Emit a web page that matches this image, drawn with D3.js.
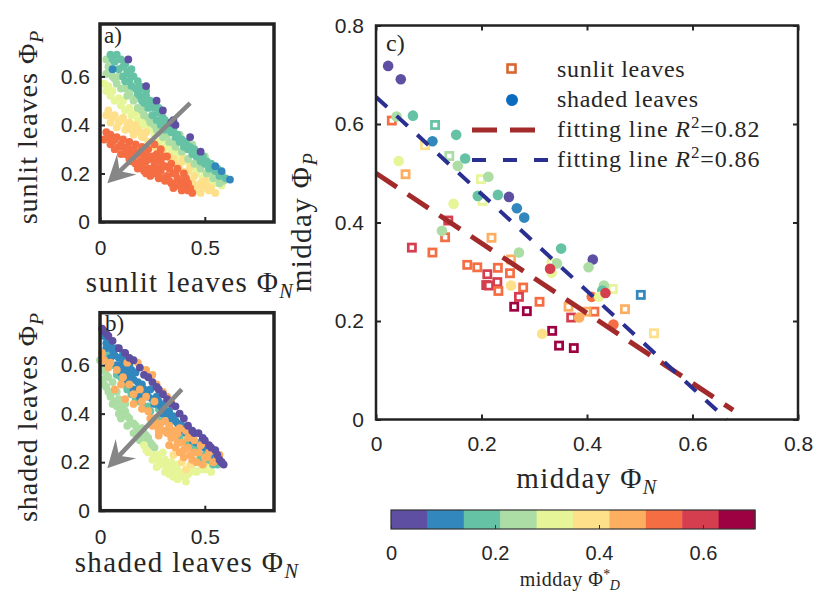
<!DOCTYPE html>
<html>
<head>
<meta charset="utf-8">
<script src="https://cdn.jsdelivr.net/npm/d3@7"></script>
<style>
  body { margin: 0; background: #fff; }
  svg { display: block; font-family: "Liberation Sans", Arial, sans-serif; }
  .serif { font-family: "Liberation Serif", "Times New Roman", serif; fill: #262626; }
</style>
</head>
<body>
<svg id="chart" width="821" height="596"></svg>
<script>
// ---- data -------------------------------------------------------------
// each point: [Phi_N, Phi_P, Phi_D*]

// panel a) sunlit leaves (dense cloud, read by eye band by band)
const sunlitCloud = [
  // yellow-green band
  [0.02,0.57,0.31],[0.03,0.54,0.31],[0.05,0.52,0.31],[0.07,0.50,0.31],[0.10,0.48,0.31],[0.12,0.46,0.31],
  [0.15,0.44,0.31],[0.18,0.42,0.31],[0.20,0.40,0.31],[0.23,0.38,0.31],[0.26,0.36,0.31],[0.28,0.33,0.31],
  [0.31,0.31,0.31],[0.34,0.29,0.31],[0.37,0.27,0.31],[0.40,0.25,0.31],[0.43,0.22,0.31],[0.46,0.20,0.31],
  [0.49,0.18,0.31],[0.52,0.17,0.31],[0.55,0.16,0.31],[0.58,0.15,0.31],[0.47,0.26,0.31],[0.53,0.22,0.31],
  [0.04,0.56,0.31],[0.06,0.54,0.31],[0.09,0.51,0.31],[0.11,0.50,0.31],[0.14,0.47,0.31],[0.17,0.45,0.31],
  [0.20,0.43,0.31],[0.22,0.41,0.31],[0.25,0.39,0.31],[0.30,0.34,0.31],[0.33,0.32,0.31],[0.36,0.30,0.31],
  [0.39,0.28,0.31],[0.42,0.25,0.31],[0.45,0.23,0.31],[0.50,0.20,0.31],[0.56,0.18,0.31],
  // light orange band
  [0.03,0.44,0.38],[0.05,0.41,0.38],[0.07,0.44,0.38],[0.09,0.41,0.38],[0.11,0.43,0.38],[0.13,0.40,0.38],
  [0.15,0.38,0.38],[0.17,0.40,0.38],[0.19,0.37,0.38],[0.21,0.35,0.38],[0.23,0.33,0.38],[0.25,0.31,0.38],
  [0.28,0.29,0.38],[0.31,0.27,0.38],[0.34,0.25,0.38],[0.36,0.23,0.38],[0.39,0.21,0.38],[0.41,0.19,0.38],
  [0.44,0.17,0.38],[0.46,0.15,0.38],[0.49,0.14,0.38],[0.52,0.13,0.38],[0.55,0.12,0.38],[0.43,0.23,0.38],
  [0.40,0.26,0.38],[0.50,0.17,0.38],
  [0.04,0.46,0.38],[0.06,0.43,0.38],[0.08,0.39,0.38],[0.10,0.42,0.38],[0.12,0.38,0.38],[0.14,0.41,0.38],
  [0.16,0.36,0.38],[0.18,0.38,0.38],[0.20,0.35,0.38],[0.22,0.37,0.38],[0.24,0.33,0.38],[0.27,0.31,0.38],
  [0.30,0.29,0.38],[0.33,0.27,0.38],[0.35,0.26,0.38],[0.38,0.24,0.38],[0.42,0.21,0.38],[0.45,0.19,0.38],
  [0.48,0.16,0.38],[0.51,0.15,0.38],[0.53,0.14,0.38],[0.45,0.13,0.38],[0.48,0.12,0.38],
  // light green band
  [0.03,0.67,0.24],[0.04,0.64,0.24],[0.03,0.61,0.24],[0.06,0.60,0.24],[0.08,0.57,0.24],[0.10,0.55,0.24],
  [0.13,0.52,0.24],[0.16,0.50,0.24],[0.18,0.47,0.24],[0.21,0.44,0.24],[0.24,0.41,0.24],[0.27,0.38,0.24],
  [0.30,0.35,0.24],[0.33,0.33,0.24],[0.36,0.31,0.24],[0.39,0.29,0.24],[0.42,0.26,0.24],[0.45,0.24,0.24],
  [0.48,0.22,0.24],[0.51,0.20,0.24],[0.54,0.18,0.24],[0.57,0.16,0.24],[0.50,0.27,0.24],[0.44,0.32,0.24],
  [0.38,0.36,0.24],
  [0.05,0.62,0.24],[0.07,0.59,0.24],[0.09,0.60,0.24],[0.12,0.55,0.24],[0.14,0.53,0.24],[0.17,0.51,0.24],
  [0.20,0.46,0.24],[0.23,0.43,0.24],[0.26,0.40,0.24],[0.29,0.37,0.24],[0.32,0.36,0.24],[0.35,0.33,0.24],
  [0.41,0.30,0.24],[0.47,0.24,0.24],[0.53,0.21,0.24],[0.56,0.19,0.24],[0.59,0.17,0.24],
  // teal band
  [0.05,0.69,0.17],[0.08,0.69,0.17],[0.07,0.66,0.17],[0.10,0.67,0.17],[0.12,0.65,0.17],[0.09,0.63,0.17],
  [0.13,0.62,0.17],[0.15,0.63,0.17],[0.11,0.60,0.17],[0.16,0.60,0.17],[0.14,0.58,0.17],[0.18,0.58,0.17],
  [0.17,0.55,0.17],[0.20,0.55,0.17],[0.19,0.52,0.17],[0.22,0.52,0.17],[0.21,0.49,0.17],[0.24,0.50,0.17],
  [0.23,0.47,0.17],[0.26,0.47,0.17],[0.25,0.44,0.17],[0.28,0.45,0.17],[0.27,0.42,0.17],[0.30,0.43,0.17],
  [0.29,0.40,0.17],[0.32,0.40,0.17],[0.31,0.38,0.17],[0.34,0.37,0.17],[0.36,0.35,0.17],[0.38,0.33,0.17],
  [0.40,0.31,0.17],[0.42,0.30,0.17],[0.44,0.28,0.17],[0.46,0.27,0.17],[0.48,0.25,0.17],[0.50,0.24,0.17],
  [0.52,0.22,0.17],[0.55,0.21,0.17],[0.57,0.19,0.17],[0.60,0.18,0.17],
  [0.06,0.67,0.17],[0.11,0.64,0.17],[0.14,0.61,0.17],[0.19,0.56,0.17],[0.22,0.54,0.17],[0.25,0.49,0.17],
  [0.28,0.47,0.17],[0.31,0.42,0.17],[0.33,0.39,0.17],[0.35,0.38,0.17],[0.37,0.36,0.17],[0.39,0.34,0.17],
  [0.41,0.33,0.17],[0.43,0.31,0.17],[0.45,0.30,0.17],[0.47,0.28,0.17],[0.49,0.27,0.17],[0.51,0.25,0.17],
  [0.53,0.24,0.17],[0.56,0.22,0.17],[0.58,0.20,0.17],[0.12,0.58,0.17],[0.15,0.56,0.17],[0.18,0.53,0.17],
  [0.20,0.50,0.17],[0.23,0.49,0.17],
  // orange blob
  [0.03,0.37,0.52],[0.02,0.34,0.52],[0.05,0.36,0.52],[0.06,0.33,0.52],[0.08,0.35,0.52],[0.09,0.31,0.52],
  [0.11,0.34,0.52],[0.12,0.30,0.52],[0.10,0.28,0.52],[0.14,0.33,0.52],[0.15,0.29,0.52],[0.14,0.26,0.52],
  [0.17,0.32,0.52],[0.18,0.28,0.52],[0.17,0.24,0.52],[0.20,0.31,0.52],[0.21,0.27,0.52],[0.20,0.23,0.52],
  [0.23,0.30,0.52],[0.24,0.26,0.52],[0.23,0.22,0.52],[0.22,0.20,0.52],[0.26,0.32,0.52],[0.27,0.28,0.52],
  [0.26,0.24,0.52],[0.26,0.20,0.52],[0.29,0.30,0.52],[0.29,0.25,0.52],[0.29,0.21,0.52],[0.28,0.18,0.52],
  [0.32,0.27,0.52],[0.31,0.23,0.52],[0.32,0.19,0.52],[0.31,0.17,0.52],[0.34,0.24,0.52],[0.35,0.20,0.52],
  [0.34,0.16,0.52],[0.37,0.22,0.52],[0.37,0.18,0.52],[0.37,0.15,0.52],[0.39,0.17,0.52],[0.40,0.14,0.52],
  [0.42,0.13,0.52],[0.44,0.12,0.52],[0.40,0.20,0.52],[0.42,0.16,0.52],
  [0.04,0.35,0.52],[0.07,0.34,0.52],[0.10,0.32,0.52],[0.13,0.31,0.52],[0.16,0.30,0.52],[0.19,0.29,0.52],
  [0.22,0.28,0.52],[0.25,0.27,0.52],[0.28,0.26,0.52],[0.30,0.27,0.52],[0.16,0.27,0.52],[0.19,0.25,0.52],
  [0.22,0.25,0.52],[0.25,0.22,0.52],[0.28,0.22,0.52],[0.30,0.23,0.52],[0.33,0.22,0.52],[0.36,0.20,0.52],
  [0.21,0.21,0.52],[0.24,0.19,0.52],[0.27,0.20,0.52],[0.30,0.18,0.52],[0.33,0.17,0.52],[0.36,0.16,0.52],
  [0.39,0.15,0.52],[0.41,0.18,0.52],[0.43,0.14,0.52],[0.39,0.13,0.52],[0.35,0.14,0.52],[0.12,0.28,0.52],
  [0.15,0.25,0.52],[0.18,0.22,0.52],[0.07,0.30,0.52],[0.05,0.32,0.52],
  // blue and purple along the upper edge
  [0.06,0.63,0.10],[0.55,0.23,0.10],[0.58,0.21,0.10],[0.62,0.175,0.10],
  [0.135,0.67,0.03],[0.22,0.56,0.03],[0.27,0.50,0.03],[0.30,0.46,0.03],[0.34,0.41,0.03],[0.36,0.40,0.03],
  [0.35,0.42,0.03],[0.43,0.35,0.03],[0.48,0.29,0.03]
];

// panel b) shaded leaves
const shadedCloud = [
  // light green
  [0.00,0.62,0.24],[0.02,0.58,0.24],[0.01,0.54,0.24],[0.04,0.55,0.24],[0.03,0.51,0.24],[0.06,0.53,0.24],
  [0.05,0.47,0.24],[0.08,0.49,0.24],[0.07,0.45,0.24],[0.10,0.44,0.24],[0.12,0.41,0.24],[0.09,0.40,0.24],
  [0.14,0.38,0.24],[0.16,0.36,0.24],[0.13,0.35,0.24],[0.18,0.33,0.24],[0.20,0.34,0.24],[0.22,0.31,0.24],
  [0.19,0.29,0.24],[0.24,0.28,0.24],[0.26,0.26,0.24],
  [0.01,0.58,0.24],[0.03,0.56,0.24],[0.02,0.52,0.24],[0.04,0.49,0.24],[0.06,0.49,0.24],[0.06,0.44,0.24],
  [0.08,0.43,0.24],[0.11,0.42,0.24],[0.10,0.38,0.24],[0.13,0.39,0.24],[0.15,0.36,0.24],[0.17,0.35,0.24],
  [0.16,0.32,0.24],[0.19,0.31,0.24],[0.21,0.32,0.24],[0.23,0.30,0.24],[0.21,0.28,0.24],[0.25,0.27,0.24],
  [0.09,0.46,0.24],[0.12,0.44,0.24],
  // yellow
  [0.21,0.27,0.31],[0.23,0.24,0.31],[0.26,0.23,0.31],[0.28,0.21,0.31],[0.30,0.20,0.31],[0.27,0.18,0.31],
  [0.32,0.18,0.31],[0.34,0.20,0.31],[0.36,0.17,0.31],[0.33,0.15,0.31],[0.38,0.16,0.31],[0.40,0.14,0.31],
  [0.42,0.15,0.31],[0.44,0.18,0.31],[0.48,0.17,0.31],[0.53,0.16,0.31],[0.37,0.13,0.31],[0.30,0.24,0.31],
  [0.22,0.25,0.31],[0.25,0.21,0.31],[0.29,0.19,0.31],[0.31,0.16,0.31],[0.34,0.17,0.31],[0.35,0.14,0.31],
  [0.39,0.15,0.31],[0.41,0.12,0.31],[0.43,0.16,0.31],[0.46,0.16,0.31],[0.50,0.17,0.31],[0.28,0.23,0.31],
  [0.31,0.21,0.31],[0.33,0.19,0.31],[0.37,0.19,0.31],[0.45,0.20,0.31],[0.52,0.19,0.31],
  [0.35,0.23,0.38],[0.39,0.20,0.38],[0.43,0.19,0.38],[0.47,0.21,0.38],[0.50,0.20,0.38],[0.41,0.17,0.38],
  // teal
  [0.03,0.64,0.17],[0.06,0.60,0.17],[0.10,0.55,0.17],[0.13,0.50,0.17],[0.17,0.46,0.17],[0.21,0.43,0.17],
  [0.24,0.41,0.17],[0.27,0.38,0.17],[0.33,0.34,0.17],[0.38,0.30,0.17],[0.41,0.28,0.17],[0.45,0.25,0.17],
  [0.48,0.22,0.17],[0.52,0.21,0.17],[0.56,0.19,0.17],[0.20,0.50,0.17],[0.28,0.42,0.17],
  [0.04,0.61,0.17],[0.08,0.56,0.17],[0.12,0.52,0.17],[0.15,0.48,0.17],[0.19,0.45,0.17],[0.23,0.43,0.17],
  [0.30,0.37,0.17],[0.35,0.32,0.17],[0.43,0.27,0.17],[0.50,0.23,0.17],[0.54,0.19,0.17],
  // blue
  [0.02,0.72,0.10],[0.04,0.70,0.10],[0.03,0.67,0.10],[0.06,0.66,0.10],[0.08,0.67,0.10],[0.05,0.63,0.10],
  [0.09,0.63,0.10],[0.11,0.62,0.10],[0.08,0.60,0.10],[0.12,0.59,0.10],[0.14,0.60,0.10],[0.10,0.57,0.10],
  [0.15,0.56,0.10],[0.17,0.57,0.10],[0.13,0.54,0.10],[0.18,0.53,0.10],[0.20,0.52,0.10],[0.16,0.50,0.10],
  [0.22,0.49,0.10],[0.24,0.50,0.10],[0.19,0.47,0.10],[0.25,0.46,0.10],[0.27,0.47,0.10],[0.29,0.43,0.10],
  [0.31,0.44,0.10],[0.33,0.41,0.10],[0.35,0.39,0.10],[0.30,0.40,0.10],[0.37,0.36,0.10],[0.39,0.35,0.10],
  [0.43,0.31,0.10],[0.46,0.28,0.10],[0.50,0.26,0.10],[0.55,0.22,0.10],[0.58,0.20,0.10],
  [0.03,0.69,0.10],[0.07,0.64,0.10],[0.10,0.60,0.10],[0.13,0.57,0.10],[0.16,0.54,0.10],[0.19,0.51,0.10],
  [0.21,0.50,0.10],[0.23,0.47,0.10],[0.26,0.44,0.10],[0.28,0.45,0.10],[0.30,0.42,0.10],[0.32,0.40,0.10],
  [0.34,0.38,0.10],[0.36,0.37,0.10],[0.38,0.33,0.10],[0.41,0.32,0.10],[0.44,0.29,0.10],[0.48,0.27,0.10],
  [0.52,0.24,0.10],[0.05,0.68,0.10],[0.11,0.65,0.10],[0.15,0.58,0.10],
  // orange
  [0.01,0.65,0.45],[0.05,0.61,0.45],[0.08,0.58,0.45],[0.13,0.61,0.45],[0.18,0.61,0.45],[0.22,0.58,0.45],
  [0.25,0.56,0.45],[0.14,0.52,0.45],[0.19,0.50,0.45],[0.10,0.52,0.45],[0.07,0.50,0.45],[0.12,0.46,0.45],
  [0.16,0.44,0.45],[0.20,0.42,0.45],[0.24,0.38,0.45],[0.27,0.35,0.45],[0.30,0.33,0.45],[0.34,0.30,0.45],
  [0.37,0.28,0.45],[0.40,0.25,0.45],[0.43,0.23,0.45],[0.46,0.20,0.45],[0.49,0.19,0.45],[0.31,0.37,0.45],
  [0.35,0.33,0.45],[0.42,0.30,0.45],[0.45,0.29,0.45],[0.48,0.27,0.45],[0.52,0.24,0.45],[0.56,0.22,0.45],
  [0.30,0.49,0.45],[0.26,0.45,0.45],[0.22,0.47,0.45],[0.38,0.34,0.45],[0.51,0.22,0.45],[0.33,0.27,0.45],
  [0.28,0.31,0.45],[0.47,0.24,0.45],[0.40,0.22,0.45],[0.44,0.21,0.45],
  [0.02,0.62,0.45],[0.04,0.59,0.45],[0.11,0.55,0.45],[0.16,0.48,0.45],[0.20,0.45,0.45],[0.23,0.41,0.45],
  [0.26,0.38,0.45],[0.29,0.36,0.45],[0.32,0.32,0.45],[0.36,0.31,0.45],[0.39,0.28,0.45],[0.42,0.26,0.45],
  [0.45,0.24,0.45],[0.50,0.22,0.45],[0.54,0.20,0.45],[0.33,0.35,0.45],[0.37,0.32,0.45],[0.41,0.33,0.45],
  [0.44,0.31,0.45],[0.50,0.28,0.45],[0.54,0.25,0.45],[0.57,0.23,0.45],[0.27,0.52,0.45],[0.32,0.47,0.45],
  [0.34,0.45,0.45],[0.28,0.33,0.45],[0.25,0.35,0.45],[0.36,0.26,0.45],[0.38,0.24,0.45],
  // purple upper edge
  [0.01,0.75,0.03],[0.03,0.73,0.03],[0.06,0.70,0.03],[0.12,0.65,0.03],[0.16,0.62,0.03],[0.19,0.59,0.03],
  [0.21,0.56,0.03],[0.25,0.53,0.03],[0.28,0.50,0.03],[0.32,0.46,0.03],[0.38,0.40,0.03],[0.42,0.35,0.03],
  [0.44,0.33,0.03],[0.47,0.32,0.03],[0.50,0.29,0.03],[0.53,0.26,0.03],[0.55,0.25,0.03],[0.57,0.21,0.03],
  [0.59,0.19,0.03],[0.40,0.38,0.03],[0.36,0.43,0.03],
  [0.02,0.74,0.03],[0.04,0.72,0.03],[0.09,0.67,0.03],[0.14,0.63,0.03],[0.23,0.55,0.03],[0.27,0.51,0.03],
  [0.30,0.48,0.03],[0.34,0.44,0.03],[0.45,0.32,0.03],[0.49,0.30,0.03],[0.52,0.27,0.03],[0.56,0.23,0.03],
  [0.58,0.20,0.03]
];

// panel c) midday values
const sunlitMidday = [
  [0.030,0.607,0.52],[0.112,0.598,0.17],[0.139,0.535,0.24],[0.093,0.557,0.38],[0.056,0.498,0.45],
  [0.199,0.488,0.31],[0.202,0.444,0.31],[0.137,0.404,0.59],[0.131,0.370,0.52],[0.219,0.369,0.45],
  [0.068,0.349,0.59],[0.107,0.339,0.52],[0.173,0.314,0.52],[0.192,0.309,0.52],[0.211,0.295,0.59],
  [0.231,0.308,0.52],[0.256,0.325,0.45],[0.254,0.297,0.52],[0.209,0.273,0.59],[0.214,0.272,0.59],
  [0.230,0.279,0.59],[0.232,0.261,0.52],[0.279,0.268,0.52],[0.271,0.249,0.59],[0.262,0.229,0.66],
  [0.286,0.220,0.66],[0.310,0.239,0.52],[0.365,0.229,0.45],[0.370,0.207,0.59],[0.334,0.180,0.66],
  [0.347,0.150,0.66],[0.375,0.145,0.66],[0.414,0.219,0.52],[0.399,0.219,0.45],[0.449,0.265,0.31],
  [0.502,0.253,0.10],[0.472,0.224,0.45],[0.527,0.175,0.38],[0.333,0.317,0.31]
];
const shadedMidday = [
  [0.023,0.718,0.03],[0.047,0.691,0.03],[0.039,0.615,0.24],[0.070,0.617,0.17],[0.107,0.565,0.10],
  [0.152,0.578,0.17],[0.043,0.525,0.31],[0.169,0.530,0.17],[0.155,0.515,0.24],[0.213,0.493,0.24],
  [0.193,0.454,0.17],[0.231,0.456,0.17],[0.252,0.452,0.03],[0.147,0.438,0.31],[0.267,0.429,0.10],
  [0.281,0.410,0.10],[0.125,0.383,0.24],[0.271,0.339,0.24],[0.351,0.347,0.17],[0.343,0.317,0.24],
  [0.333,0.298,0.31],[0.330,0.306,0.59],[0.411,0.325,0.03],[0.403,0.309,0.24],[0.256,0.272,0.38],
  [0.409,0.249,0.52],[0.385,0.207,0.45],[0.315,0.174,0.38],[0.432,0.272,0.24],[0.429,0.262,0.17],
  [0.423,0.249,0.31],[0.435,0.257,0.59],[0.450,0.193,0.52]
];

// fitted lines, end points [Phi_N, Phi_P]
const fitSunlit = [[0, 0.50], [0.677, 0.019]];
const fitShaded = [[0, 0.655], [0.665, 0]];
const fitLabels = ['0.82', '0.86'];

// arrows in panels a and b: [start, tip]
const arrowA = [[0.43, 0.49], [0.035, 0.16]];
const arrowB = [[0.39, 0.50], [0.035, 0.175]];

const smallXTicks = [0, 0.5];
const smallYTicks = [0, 0.2, 0.4, 0.6];
const bigTicks = [0, 0.2, 0.4, 0.6, 0.8];
const barTicks = [0, 0.2, 0.4, 0.6];

// ---- setup ------------------------------------------------------------
const svg = d3.select('#chart');
const spectral = d3.schemeSpectral[10].slice().reverse();
const phiDColor = d3.scaleQuantize().domain([0, 0.7]).range(spectral);
const fmt = d => String(d);
const sansFont = '"Liberation Sans", Arial, sans-serif';

const xA = d3.scaleLinear().domain([0, 0.83]).range([100, 274]);
const yA = d3.scaleLinear().domain([0, 0.816]).range([222, 24]);
const xB = xA.copy();
const yB = d3.scaleLinear().domain([0, 0.816]).range([510.7, 312.7]);
const xC = d3.scaleLinear().domain([0, 0.8]).range([376, 798]);
const yC = d3.scaleLinear().domain([0, 0.8]).range([419.5, 25.5]);
const xBar = d3.scaleLinear().domain([0, 0.7]).range([391, 755]);

// label like "text Φ_sub" with optional superscript on Φ
function phiText(g, prefix, sub, size, sup, spacing) {
  const t = g.append('text').attr('class', 'serif').attr('font-size', size)
    .attr('text-anchor', 'middle').attr('letter-spacing', spacing || 0);
  t.append('tspan').text(prefix + 'Φ');
  if (sup) {
    t.append('tspan').attr('font-size', size * 0.7).attr('dy', -size * 0.36).text(sup);
    t.append('tspan').attr('font-size', size * 0.7).attr('font-style', 'italic')
      .attr('dx', -size * 0.05).attr('dy', size * 0.55).text(sub);
  } else {
    t.append('tspan').attr('font-size', size * 0.7).attr('font-style', 'italic')
      .attr('dy', size * 0.22).text(sub);
  }
  return t;
}

function axes(x, y, xt, yt, padX, padY, mirror) {
  const g = svg.append('g');
  const bottom = y.range()[0], top = y.range()[1];
  const left = x.range()[0], right = x.range()[1];
  g.append('g').attr('transform', `translate(0,${bottom})`)
    .call(d3.axisBottom(x).tickValues(xt).tickFormat(fmt).tickSizeInner(-5).tickSizeOuter(0).tickPadding(padX));
  g.append('g').attr('transform', `translate(${left},0)`)
    .call(d3.axisLeft(y).tickValues(yt).tickFormat(fmt).tickSizeInner(-5).tickSizeOuter(0).tickPadding(padY));
  if (mirror) {
    g.append('g').attr('transform', `translate(0,${top})`)
      .call(d3.axisTop(x).tickValues(xt).tickFormat('').tickSizeInner(-5).tickSizeOuter(0));
    g.append('g').attr('transform', `translate(${right},0)`)
      .call(d3.axisRight(y).tickValues(yt).tickFormat('').tickSizeInner(-5).tickSizeOuter(0));
  }
  g.selectAll('.domain').remove();
  g.selectAll('.tick line').attr('stroke', '#262626').attr('stroke-width', 2);
  g.selectAll('.tick text').attr('font-family', sansFont).attr('font-size', 21).attr('fill', '#262626');
  return g;
}

function frame(x, y, w) {
  svg.append('rect')
    .attr('x', x.range()[0]).attr('y', y.range()[1])
    .attr('width', x.range()[1] - x.range()[0]).attr('height', y.range()[0] - y.range()[1])
    .attr('fill', 'none').attr('stroke', '#222').attr('stroke-width', w);
}

function cloud(data, x, y) {
  svg.append('g').selectAll('circle').data(data).join('circle')
    .attr('cx', d => x(d[0])).attr('cy', d => y(d[1])).attr('r', 3.9)
    .attr('fill', d => phiDColor(d[2]));
}

function arrow(a, x, y) {
  const sx = x(a[0][0]), sy = y(a[0][1]), tx = x(a[1][0]), ty = y(a[1][1]);
  const len = Math.hypot(tx - sx, ty - sy);
  const ux = (tx - sx) / len, uy = (ty - sy) / len;
  const nx = -uy, ny = ux;
  const L = 27, W = 14, notch = 17;
  const bx = tx - ux * L, by = ty - uy * L;
  const mx = tx - ux * notch, my = ty - uy * notch;
  const g = svg.append('g');
  g.append('line').attr('x1', sx).attr('y1', sy).attr('x2', mx).attr('y2', my)
    .attr('stroke', '#868686').attr('stroke-width', 4.5);
  g.append('path')
    .attr('d', `M${tx},${ty}L${bx + nx * W},${by + ny * W}L${mx},${my}L${bx - nx * W},${by - ny * W}Z`)
    .attr('fill', '#868686');
}

// ---- panel a ----------------------------------------------------------
cloud(sunlitCloud, xA, yA);
arrow(arrowA, xA, yA);
axes(xA, yA, smallXTicks, smallYTicks, 18, 10, false);
frame(xA, yA, 3.5);
svg.append('text').attr('class', 'serif').attr('font-size', 23).attr('x', 104).attr('y', 43).text('a)');
phiText(svg.append('g').attr('transform', 'translate(190,292)'), 'sunlit leaves ', 'N', 29, null, 1.4);
phiText(svg.append('g').attr('transform', 'translate(37,127) rotate(-90)'), 'sunlit leaves ', 'P', 28, null, 1);

// ---- panel b ----------------------------------------------------------
cloud(shadedCloud, xB, yB);
arrow(arrowB, xB, yB);
axes(xB, yB, smallXTicks, smallYTicks, 18, 10, false);
frame(xB, yB, 3.5);
svg.append('text').attr('class', 'serif').attr('font-size', 23).attr('x', 105).attr('y', 331).text('b)');
phiText(svg.append('g').attr('transform', 'translate(187,572)'), 'shaded leaves ', 'N', 29, null, 1.4);
phiText(svg.append('g').attr('transform', 'translate(37,417) rotate(-90)'), 'shaded leaves ', 'P', 28, null, 1);

// ---- panel c ----------------------------------------------------------
svg.append('g').selectAll('rect').data(sunlitMidday).join('rect')
  .attr('x', d => xC(d[0]) - 3.6).attr('y', d => yC(d[1]) - 3.6)
  .attr('width', 7.2).attr('height', 7.2)
  .attr('fill', '#fff').attr('stroke', d => phiDColor(d[2])).attr('stroke-width', 2.7);
svg.append('g').selectAll('circle').data(shadedMidday).join('circle')
  .attr('cx', d => xC(d[0])).attr('cy', d => yC(d[1])).attr('r', 5.3)
  .attr('fill', d => phiDColor(d[2]));

const lineC = d3.line().x(d => xC(d[0])).y(d => yC(d[1]));
svg.append('path').datum(fitSunlit).attr('d', lineC)
  .attr('fill', 'none').attr('stroke', '#a32a2a').attr('stroke-width', 5).attr('stroke-dasharray', '25 13');
svg.append('path').datum(fitShaded).attr('d', lineC)
  .attr('fill', 'none').attr('stroke', '#2a2f92').attr('stroke-width', 4).attr('stroke-dasharray', '15 13');

axes(xC, yC, bigTicks, bigTicks, 17, 12, true);
frame(xC, yC, 2.5);
svg.append('text').attr('class', 'serif').attr('font-size', 24).attr('x', 386).attr('y', 51).text('c)');
phiText(svg.append('g').attr('transform', 'translate(587,488)'), 'midday ', 'N', 29, null, 1.4);
phiText(svg.append('g').attr('transform', 'translate(311,222) rotate(-90)'), 'midday ', 'P', 29, null, 1.4);

// legend
const leg = svg.append('g');
leg.append('rect').attr('x', 507.5).attr('y', 64.5).attr('width', 8).attr('height', 8)
  .attr('fill', '#fff').attr('stroke', '#d9652f').attr('stroke-width', 2.6);
leg.append('circle').attr('cx', 512).attr('cy', 100).attr('r', 6).attr('fill', '#0b6cbd');
leg.append('line').attr('x1', 472).attr('x2', 548).attr('y1', 130).attr('y2', 130)
  .attr('stroke', '#a32a2a').attr('stroke-width', 5).attr('stroke-dasharray', '25 13');
leg.append('line').attr('x1', 472).attr('x2', 548).attr('y1', 160).attr('y2', 160)
  .attr('stroke', '#2a2f92').attr('stroke-width', 4).attr('stroke-dasharray', '14 17');
const legText = ['sunlit leaves', 'shaded leaves'];
legText.forEach((s, i) => {
  leg.append('text').attr('class', 'serif').attr('font-size', 24).attr('letter-spacing', 0.7)
    .attr('x', 557).attr('y', 77 + i * 30).text(s);
});
fitLabels.forEach((r, i) => {
  const t = leg.append('text').attr('class', 'serif').attr('font-size', 24).attr('letter-spacing', 0.9)
    .attr('x', 557).attr('y', 137 + i * 30);
  t.append('tspan').text('fitting line ');
  t.append('tspan').attr('font-style', 'italic').text('R');
  t.append('tspan').attr('font-size', 17).attr('dy', -9).text('2');
  t.append('tspan').attr('dy', 9).text('=' + r);
});

// ---- colorbar ---------------------------------------------------------
const barG = svg.append('g');
const bins = d3.range(10).map(i => [i * 0.07, (i + 1) * 0.07]);
barG.selectAll('rect').data(bins).join('rect')
  .attr('x', d => xBar(d[0])).attr('width', d => xBar(d[1]) - xBar(d[0]) + 0.5)
  .attr('y', 510).attr('height', 19)
  .attr('fill', (d, i) => spectral[i]);
barG.append('rect').attr('x', 391).attr('y', 510).attr('width', 364).attr('height', 19)
  .attr('fill', 'none').attr('stroke', '#333').attr('stroke-width', 1.2);
barG.append('g').attr('transform', 'translate(0,529)')
  .call(d3.axisBottom(xBar).tickValues(barTicks).tickFormat(fmt).tickSizeInner(-4).tickSizeOuter(0).tickPadding(17))
  .call(g => g.select('.domain').remove())
  .call(g => g.selectAll('.tick line').attr('stroke', '#333'))
  .call(g => g.selectAll('.tick text').attr('font-family', sansFont).attr('font-size', 20).attr('fill', '#262626'));
phiText(svg.append('g').attr('transform', 'translate(570,586)'), 'midday ', 'D', 20, '*', 0.5);
</script>
</body>
</html>
